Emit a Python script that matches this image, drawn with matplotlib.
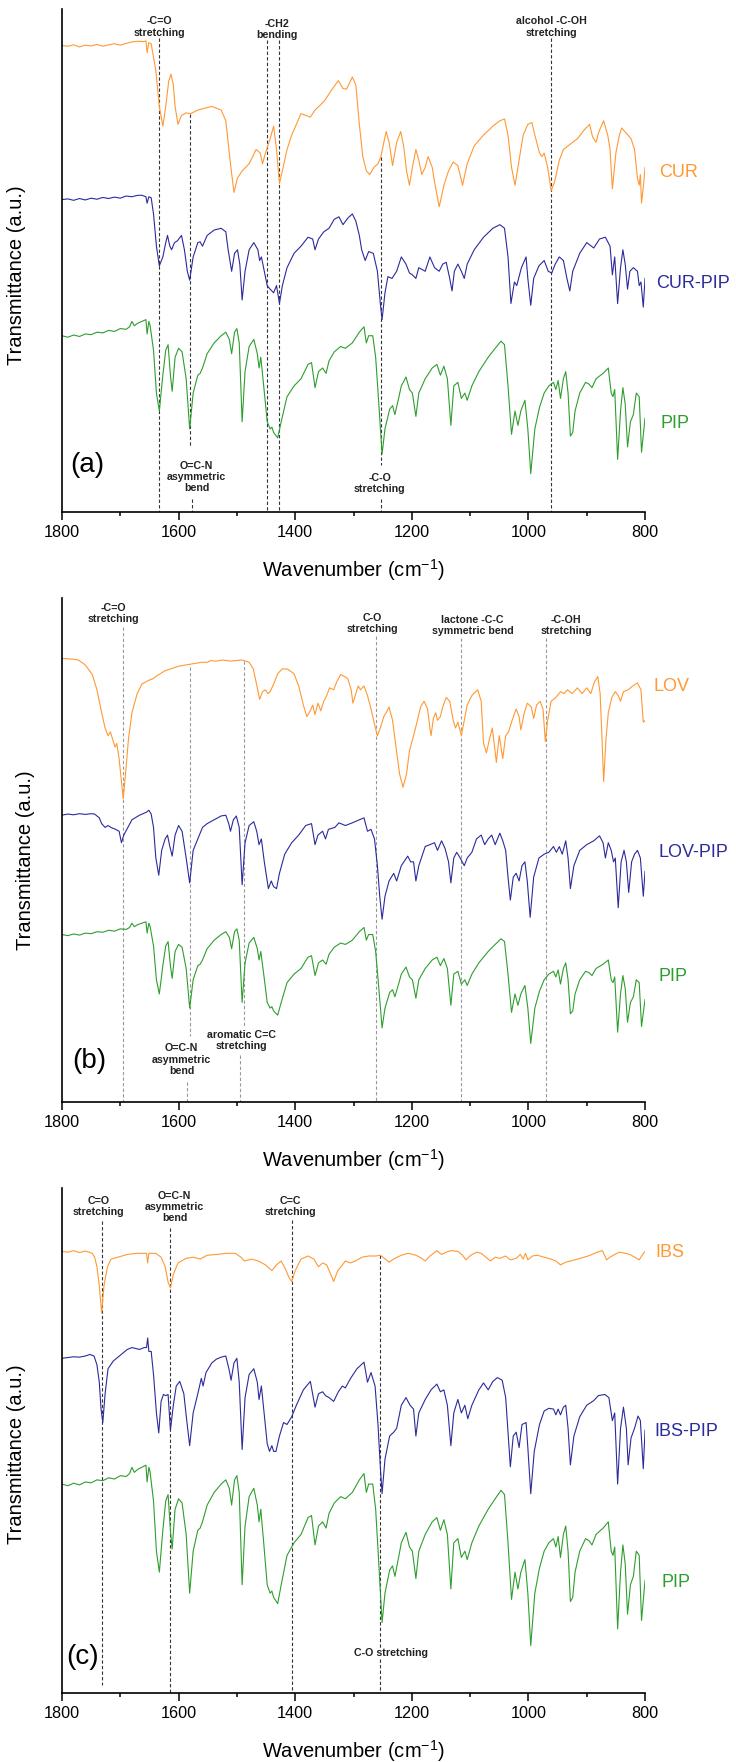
import numpy as np
import matplotlib
matplotlib.use('Agg')
import matplotlib.pyplot as plt

plt.rcParams['font.family'] = ['Liberation Sans', 'DejaVu Sans']
plt.rcParams['mathtext.default'] = 'regular'

ORANGE = '#FF9933'
BLUE = '#2B2B9B'
GREEN = '#2E9E2E'

# wavenumbers (cm-1) and transmittance (a.u., stacked as in the figure)
cur_wn = [1800, 1790, 1780, 1770, 1760, 1750, 1740, 1730, 1720, 1710, 1700, 1690, 1680, 1670, 1660, 1656, 1654, 1651,
          1647, 1639, 1633, 1627, 1622, 1617, 1613, 1609, 1606, 1601, 1595, 1587, 1579, 1567, 1555, 1543, 1527, 1519,
          1515, 1511, 1505, 1499, 1491, 1479, 1467, 1460, 1456, 1451, 1443, 1437, 1432, 1427, 1422, 1414, 1406, 1398,
          1390, 1382, 1374, 1366, 1350, 1338, 1326, 1318, 1312, 1302, 1296, 1290, 1284, 1278, 1272, 1265, 1258, 1253,
          1248, 1244, 1239, 1233, 1226, 1219, 1214, 1209, 1204, 1199, 1193, 1188, 1183, 1177, 1172, 1165, 1160, 1153,
          1145, 1137, 1129, 1121, 1113, 1105, 1093, 1077, 1061, 1049, 1041, 1035, 1029, 1023, 1017, 1009, 1001, 994,
          989, 981, 977, 973, 967, 961, 955, 947, 940, 928, 916, 904, 895, 890, 884, 879, 871, 864, 860, 856, 850, 844,
          840, 832, 824, 818, 813, 810, 808, 806, 802, 800]
cur_t = [1370, 1368, 1372, 1366, 1371, 1369, 1373, 1368, 1372, 1375, 1371, 1376, 1380, 1382, 1381, 1383, 1350, 1378,
         1375, 1300, 1200, 1145, 1200, 1270, 1290, 1260, 1200, 1150, 1175, 1182, 1180, 1190, 1195, 1200, 1190, 1160,
         1100, 1040, 960, 1000, 1020, 1040, 1080, 1070, 1040, 1070, 1110, 1145, 1080, 985, 1020, 1080, 1120, 1150,
         1180, 1175, 1170, 1190, 1215, 1245, 1272, 1250, 1248, 1282, 1260, 1150, 1060, 1020, 1010, 1030, 1040, 1060,
         1100, 1130, 1100, 1035, 1100, 1130, 1090, 1020, 980, 1030, 1080, 1050, 1010, 1030, 1060, 1030, 980, 920,
         980, 1020, 1045, 1035, 980, 1040, 1090, 1120, 1145, 1160, 1165, 1120, 1030, 980, 1040, 1120, 1150, 1155,
         1120, 1070, 1060, 1070, 1030, 965, 990, 1050, 1080, 1095, 1110, 1135, 1150, 1115, 1100, 1130, 1160, 1120,
         1080, 970, 1070, 1120, 1140, 1125, 1110, 1080, 1000, 980, 1010, 930, 990, 1030]

curpip_wn = [1800, 1790, 1780, 1770, 1760, 1750, 1740, 1730, 1720, 1710, 1700, 1690, 1680, 1670, 1663, 1656, 1654,
             1651, 1647, 1643, 1638, 1633, 1627, 1622, 1619, 1615, 1612, 1607, 1602, 1595, 1590, 1585, 1581, 1575,
             1567, 1563, 1559, 1551, 1539, 1527, 1519, 1515, 1509, 1504, 1499, 1495, 1491, 1486, 1479, 1471, 1464,
             1461, 1458, 1453, 1448, 1443, 1437, 1432, 1427, 1422, 1414, 1402, 1390, 1378, 1370, 1366, 1360, 1351,
             1342, 1333, 1325, 1318, 1310, 1302, 1296, 1290, 1286, 1280, 1274, 1266, 1259, 1254, 1251, 1246, 1241,
             1234, 1226, 1218, 1210, 1204, 1199, 1193, 1188, 1177, 1169, 1161, 1153, 1147, 1141, 1135, 1131, 1127,
             1121, 1115, 1110, 1105, 1093, 1077, 1061, 1049, 1041, 1035, 1030, 1024, 1020, 1012, 1004, 1001, 996,
             991, 982, 973, 966, 960, 954, 947, 940, 934, 929, 924, 912, 900, 888, 878, 868, 860, 856, 852, 847, 842,
             838, 834, 830, 826, 820, 813, 810, 807, 803, 800]
curpip_t = [940, 942, 938, 943, 939, 944, 941, 946, 943, 947, 944, 950, 948, 952, 952, 948, 930, 948, 945, 900, 810,
            755, 780, 820, 840, 810, 800, 820, 825, 840, 800, 740, 715, 780, 820, 822, 810, 840, 855, 860, 850, 800,
            740, 790, 800, 760, 660, 740, 800, 820, 800, 770, 780, 740, 700, 690, 680, 700, 650, 700, 750, 790, 810,
            835, 830, 800, 830, 850, 860, 885, 892, 870, 888, 900, 880, 840, 800, 770, 795, 790, 740, 650, 605, 680,
            725, 720, 740, 780, 760, 735, 730, 720, 750, 740, 780, 750, 740, 760, 765, 720, 685, 740, 760, 740, 720,
            760, 800, 835, 860, 870, 860, 780, 650, 710, 700, 750, 780, 720, 645, 720, 755, 770, 740, 735, 760, 780,
            770, 720, 685, 740, 790, 820, 805, 830, 835, 810, 730, 780, 650, 750, 800, 760, 690, 740, 750, 740, 700,
            710, 640, 720]

pip_wn = [1800, 1790, 1780, 1770, 1760, 1750, 1740, 1730, 1720, 1710, 1700, 1690, 1684, 1680, 1676, 1670, 1663, 1656,
          1654, 1651, 1649, 1643, 1638, 1633, 1627, 1622, 1618, 1614, 1611, 1606, 1600, 1594, 1587, 1581, 1575, 1567,
          1563, 1559, 1551, 1539, 1527, 1519, 1513, 1509, 1504, 1500, 1496, 1491, 1486, 1479, 1471, 1465, 1462, 1459,
          1454, 1448, 1443, 1440, 1437, 1430, 1424, 1414, 1402, 1390, 1378, 1372, 1366, 1360, 1353, 1347, 1342, 1333,
          1322, 1314, 1302, 1290, 1282, 1278, 1274, 1267, 1262, 1257, 1251, 1246, 1238, 1233, 1229, 1222, 1218, 1210,
          1204, 1199, 1193, 1188, 1177, 1165, 1157, 1151, 1145, 1139, 1133, 1128, 1121, 1115, 1109, 1105, 1097, 1085,
          1069, 1057, 1047, 1041, 1035, 1029, 1023, 1018, 1013, 1006, 1001, 996, 989, 981, 973, 965, 957, 953, 949,
          945, 940, 936, 932, 928, 924, 920, 912, 902, 896, 891, 884, 872, 863, 858, 855, 852, 847, 842, 838, 834, 830,
          825, 820, 815, 810, 806, 800]
pip_t = [560, 556, 562, 558, 565, 563, 570, 568, 575, 572, 580, 578, 585, 600, 588, 595, 600, 605, 565, 600, 590, 520,
         400, 350, 450, 520, 535, 450, 405, 500, 525, 515, 440, 300, 400, 450, 455, 470, 510, 540, 560, 570, 550, 510,
         570, 580, 540, 320, 460, 530, 550, 510, 470, 500, 420, 320, 300, 305, 290, 275, 320, 390, 420, 440, 480, 485,
         415, 460, 470, 455, 490, 515, 530, 525, 540, 570, 585, 540, 560, 560, 500, 380, 230, 300, 355, 365, 340, 390,
         420, 445, 410, 400, 335, 400, 440, 470, 480, 450, 475, 440, 310, 420, 430, 385, 400, 380, 420, 460, 500, 525,
         545, 535, 420, 285, 350, 310, 350, 380, 300, 175, 300, 360, 400, 420, 430, 410, 435, 385, 440, 460, 400, 280,
         290, 350, 400, 430, 425, 415, 440, 455, 470, 400, 390, 410, 215, 350, 415, 370, 250, 320, 340, 400, 390, 235,
         330]

lov_wn = [1800, 1790, 1780, 1772, 1760, 1748, 1740, 1732, 1726, 1721, 1717, 1713, 1709, 1706, 1702, 1698, 1695, 1691,
          1686, 1680, 1671, 1663, 1651, 1645, 1639, 1623, 1599, 1575, 1560, 1551, 1545, 1535, 1525, 1511, 1491, 1479,
          1472, 1467, 1461, 1456, 1451, 1447, 1443, 1437, 1430, 1422, 1413, 1402, 1394, 1386, 1380, 1374, 1370, 1366,
          1361, 1356, 1351, 1346, 1341, 1334, 1329, 1322, 1310, 1304, 1301, 1296, 1292, 1288, 1282, 1276, 1270, 1264,
          1259, 1254, 1248, 1244, 1239, 1233, 1228, 1221, 1215, 1209, 1204, 1197, 1192, 1185, 1179, 1173, 1169, 1167,
          1163, 1159, 1156, 1151, 1147, 1141, 1135, 1129, 1125, 1121, 1115, 1110, 1105, 1097, 1087, 1081, 1077, 1072,
          1067, 1062, 1058, 1055, 1050, 1047, 1044, 1039, 1034, 1028, 1021, 1016, 1013, 1007, 1002, 995, 991, 986, 980,
          975, 971, 967, 961, 953, 945, 939, 933, 925, 916, 908, 900, 893, 887, 881, 877, 874, 871, 867, 863, 857, 851,
          846, 842, 837, 829, 821, 813, 807, 803, 800]
lov_t = [1242, 1241, 1240, 1238, 1225, 1200, 1160, 1100, 1060, 1040, 1050, 1030, 1010, 1020, 980, 920, 875, 940, 1030,
         1100, 1150, 1175, 1185, 1188, 1195, 1210, 1222, 1228, 1232, 1232, 1236, 1235, 1238, 1235, 1238, 1232, 1215,
         1180, 1135, 1155, 1160, 1150, 1155, 1175, 1202, 1215, 1214, 1202, 1170, 1120, 1090, 1105, 1120, 1095, 1125,
         1105, 1130, 1145, 1165, 1160, 1180, 1200, 1190, 1160, 1125, 1150, 1170, 1160, 1170, 1145, 1110, 1070, 1040,
         1060, 1090, 1100, 1115, 1080, 1020, 940, 905, 940, 1000, 1040, 1070, 1115, 1130, 1110, 1060, 1040, 1085, 1100,
         1080, 1090, 1115, 1140, 1130, 1080, 1060, 1075, 1040, 1080, 1120, 1145, 1160, 1130, 1020, 995, 1030, 1060,
         1010, 970, 1040, 1010, 980, 1040, 1050, 1080, 1110, 1090, 1055, 1100, 1125, 1115, 1085, 1120, 1130, 1110, 1025,
         1080, 1130, 1140, 1155, 1150, 1160, 1150, 1165, 1150, 1165, 1150, 1180, 1195, 1150, 1040, 920, 1030, 1100,
         1140, 1155, 1145, 1130, 1155, 1160, 1170, 1178, 1160, 1075, 1080]

lovpip_wn = [1800, 1790, 1780, 1770, 1760, 1750, 1744, 1736, 1732, 1726, 1721, 1716, 1708, 1702, 1698, 1694, 1687, 1680,
             1667, 1655, 1651, 1647, 1643, 1639, 1634, 1629, 1623, 1619, 1615, 1611, 1606, 1600, 1594, 1587, 1581,
             1575, 1567, 1559, 1551, 1539, 1527, 1519, 1514, 1511, 1506, 1501, 1496, 1491, 1486, 1479, 1471, 1466,
             1462, 1458, 1453, 1446, 1441, 1437, 1432, 1427, 1418, 1406, 1394, 1382, 1372, 1366, 1361, 1353, 1348,
             1343, 1332, 1325, 1314, 1302, 1290, 1282, 1276, 1270, 1264, 1259, 1255, 1251, 1246, 1239, 1231, 1226,
             1218, 1207, 1202, 1197, 1193, 1188, 1177, 1169, 1161, 1156, 1149, 1143, 1137, 1133, 1128, 1123, 1117,
             1110, 1105, 1097, 1089, 1081, 1075, 1069, 1063, 1057, 1049, 1044, 1039, 1035, 1031, 1026, 1021, 1016,
             1011, 1006, 1002, 997, 991, 982, 973, 965, 957, 952, 947, 942, 936, 932, 928, 922, 912, 900, 888, 878,
             872, 868, 863, 858, 854, 851, 846, 841, 836, 832, 828, 823, 818, 813, 808, 803, 800]
lovpip_t = [832, 835, 833, 836, 834, 836, 835, 825, 810, 800, 805, 800, 795, 790, 760, 780, 800, 820, 832, 840, 845, 835,
            800, 720, 675, 740, 770, 780, 750, 725, 780, 805, 790, 720, 655, 740, 770, 800, 810, 820, 830, 832, 810,
            790, 820, 830, 800, 650, 760, 805, 815, 790, 755, 770, 710, 640, 660, 645, 640, 680, 730, 760, 780, 805,
            810, 755, 780, 790, 770, 795, 800, 812, 805, 812, 820, 825, 790, 795, 770, 700, 620, 560, 620, 660, 680,
            660, 700, 725, 710, 710, 660, 700, 750, 755, 760, 740, 765, 745, 710, 655, 720, 735, 720, 700, 720, 735,
            770, 780, 755, 770, 780, 755, 785, 765, 740, 670, 610, 670, 680, 660, 700, 710, 660, 565, 670, 720, 730,
            735, 750, 735, 750, 730, 765, 720, 640, 700, 740, 755, 765, 778, 760, 720, 760, 740, 710, 720, 590, 710,
            740, 710, 630, 710, 730, 740, 720, 620, 685]

ibs_wn = [1800, 1790, 1780, 1770, 1760, 1748, 1744, 1740, 1736, 1732, 1728, 1722, 1716, 1704, 1688, 1671, 1655, 1653,
          1651, 1639, 1630, 1623, 1618, 1614, 1609, 1601, 1587, 1575, 1563, 1551, 1535, 1519, 1503, 1493, 1487, 1475,
          1463, 1451, 1440, 1432, 1424, 1417, 1410, 1406, 1400, 1390, 1378, 1368, 1360, 1353, 1346, 1339, 1334, 1327,
          1319, 1314, 1305, 1297, 1285, 1274, 1262, 1254, 1247, 1239, 1229, 1218, 1206, 1193, 1183, 1177, 1169, 1157,
          1149, 1141, 1133, 1121, 1113, 1107, 1099, 1089, 1081, 1073, 1065, 1057, 1049, 1039, 1031, 1021, 1014, 1009,
          1005, 1001, 993, 985, 973, 961, 953, 945, 936, 928, 916, 904, 894, 882, 873, 866, 860, 852, 844, 834, 826,
          818, 810, 805, 800]
ibs_t = [1260, 1258, 1262, 1257, 1261, 1255, 1245, 1220, 1170, 1100, 1170, 1220, 1240, 1245, 1252, 1255, 1255, 1230,
         1255, 1255, 1245, 1220, 1180, 1165, 1200, 1230, 1242, 1245, 1240, 1250, 1252, 1255, 1255, 1245, 1235, 1240,
         1235, 1225, 1210, 1225, 1235, 1215, 1190, 1182, 1210, 1240, 1248, 1240, 1220, 1230, 1225, 1200, 1182, 1210,
         1225, 1235, 1230, 1235, 1245, 1248, 1248, 1250, 1242, 1232, 1242, 1250, 1255, 1250, 1242, 1235, 1248, 1262,
         1252, 1258, 1262, 1260, 1250, 1238, 1250, 1258, 1255, 1245, 1235, 1245, 1242, 1248, 1238, 1242, 1252, 1240,
         1255, 1238, 1248, 1250, 1245, 1240, 1235, 1225, 1232, 1235, 1240, 1245, 1250, 1258, 1262, 1238, 1245, 1252,
         1258, 1255, 1252, 1245, 1238, 1250, 1260]

ibspip_wn = [1800, 1790, 1780, 1770, 1760, 1752, 1745, 1740, 1736, 1733, 1730, 1726, 1721, 1712, 1700, 1688, 1680, 1667,
             1659, 1655, 1653, 1651, 1647, 1643, 1638, 1634, 1630, 1626, 1622, 1618, 1614, 1609, 1604, 1598, 1591,
             1586, 1581, 1575, 1567, 1561, 1558, 1553, 1543, 1535, 1527, 1519, 1513, 1510, 1505, 1500, 1496, 1491,
             1486, 1479, 1471, 1465, 1462, 1458, 1454, 1448, 1444, 1440, 1437, 1433, 1427, 1420, 1414, 1406, 1398,
             1386, 1374, 1366, 1360, 1353, 1348, 1342, 1334, 1326, 1319, 1314, 1305, 1294, 1282, 1276, 1270, 1263,
             1258, 1254, 1251, 1246, 1238, 1231, 1226, 1218, 1210, 1203, 1197, 1193, 1188, 1177, 1167, 1157, 1151,
             1145, 1139, 1133, 1128, 1121, 1115, 1109, 1104, 1097, 1085, 1077, 1069, 1061, 1053, 1045, 1039, 1035,
             1031, 1026, 1021, 1016, 1011, 1004, 1001, 996, 990, 981, 973, 965, 957, 953, 949, 945, 940, 936, 932, 928,
             922, 912, 900, 888, 880, 869, 862, 856, 852, 847, 842, 837, 832, 829, 824, 818, 812, 808, 803, 800]
ibspip_t = [982, 984, 986, 985, 988, 992, 988, 965, 920, 850, 815, 890, 955, 975, 990, 1005, 1010, 1005, 1010, 1010,
            1035, 1000, 1000, 940, 840, 788, 870, 888, 885, 888, 795, 860, 910, 922, 890, 820, 755, 840, 890, 930, 910,
            945, 970, 980, 985, 988, 950, 925, 970, 982, 920, 745, 880, 940, 955, 920, 875, 910, 850, 760, 740, 755,
            740, 740, 780, 815, 810, 830, 860, 900, 922, 855, 890, 895, 885, 880, 870, 895, 910, 905, 930, 955, 972,
            920, 945, 910, 810, 700, 630, 720, 780, 790, 800, 860, 880, 860, 850, 780, 840, 875, 900, 915, 895, 900,
            860, 755, 840, 875, 840, 860, 825, 860, 900, 918, 900, 922, 932, 925, 880, 790, 700, 780, 790, 750, 810,
            815, 750, 630, 740, 810, 845, 852, 850, 835, 850, 835, 855, 860, 800, 705, 780, 830, 860, 872, 885, 888,
            880, 820, 840, 655, 800, 855, 800, 705, 775, 800, 832, 820, 695, 795]

# PIP reference is the same spectrum in all panels, only rescaled/shifted
pip_place = {'a': (1.0, 0.0), 'b': (0.740, 105.5), 'c': (1.091, 44.1)}

panels = [
    dict(tag='a', rect=[0.0842, 0.7094, 0.7922, 0.2855], ylim=(68, 1472),
         series=[(cur_wn, cur_t, ORANGE, 'CUR', 776, 1015),
                 (curpip_wn, curpip_t, BLUE, 'CUR-PIP', 781, 705)],
         pip_label=(774, 315), letter=(1786, 200), ylab=(-0.062, 0.47), dash='#333333'),
    dict(tag='b', rect=[0.0842, 0.3746, 0.7922, 0.2860], ylim=(82, 1400),
         series=[(lov_wn, lov_t, ORANGE, 'LOV', 786, 1168),
                 (lovpip_wn, lovpip_t, BLUE, 'LOV-PIP', 777, 735)],
         pip_label=(777, 410), letter=(1783, 190), ylab=(-0.046, 0.48), dash='#999999'),
    dict(tag='c', rect=[0.0842, 0.0392, 0.7922, 0.2866], ylim=(112, 1425),
         series=[(ibs_wn, ibs_t, ORANGE, 'IBS', 782, 1257),
                 (ibspip_wn, ibspip_t, BLUE, 'IBS-PIP', 784, 793)],
         pip_label=(772, 400), letter=(1792, 205), ylab=(-0.062, 0.473), dash='#333333'),
]

# annotations: (text, x, y) and dashed marker segments (x, y0, y1)
notes = {
    'a': [('-C=O\nstretching', 1633, 1422), ('-CH2\nbending', 1431, 1414),
          ('alcohol -C-OH\nstretching', 960, 1422), ('O=C-N\nasymmetric\nbend', 1569, 165),
          ('-C-O\nstretching', 1255, 148)],
    'b': [('-C=O\nstretching', 1711, 1360), ('C-O\nstretching', 1267, 1334),
          ('lactone -C-C\nsymmetric bend', 1096, 1329), ('-C-OH\nstretching', 935, 1328),
          ('O=C-N\nasymmetric\nbend', 1595, 193), ('aromatic C=C\nstretching', 1492, 242)],
    'c': [('C=O\nstretching', 1737, 1376), ('O=C-N\nasymmetric\nbend', 1607, 1375),
          ('C=C\nstretching', 1408, 1377), ('C-O stretching', 1236, 215)],
}
marks = {
    'a': [(1634, 1390, 68), (1448, 1385, 68), (1428, 1385, 68), (961, 1390, 68),
          (1581, 1180, 250), (1577, 105, 68), (1252, 1060, 200), (1252, 105, 68)],
    'b': [(1696, 1325, 82), (1261, 1300, 82), (1115, 1295, 82), (970, 1295, 82),
          (1581, 1220, 255), (1586, 135, 82), (1488, 1235, 280), (1494, 205, 82)],
    'c': [(1732, 1340, 132), (1615, 1320, 112), (1405, 1342, 112),
          (1254, 1250, 230), (1254, 200, 112)],
}

fig = plt.figure(figsize=(7.36, 17.62), dpi=100)

for p in panels:
    ax = fig.add_axes(p['rect'])
    tag = p['tag']
    for x, y0, y1 in marks[tag]:
        ax.plot([x, x], [y0, y1], color=p['dash'], lw=0.8, ls=(0, (3, 2)), zorder=1)
    for wn, t, col, name, lx, ly in p['series']:
        ax.plot(wn, t, color=col, lw=0.8, zorder=2)
        ax.text(lx, ly, name, color=col, fontsize=13, ha='left', va='center')
    k, off = pip_place[tag]
    ax.plot(pip_wn, np.array(pip_t) * k + off, color=GREEN, lw=0.8, zorder=2)
    ax.text(p['pip_label'][0], p['pip_label'][1], 'PIP', color=GREEN, fontsize=13,
            ha='left', va='center')
    for txt, x, y in notes[tag]:
        ax.text(x, y, txt, fontsize=7.7, fontweight='bold', ha='center', va='center',
                linespacing=1.15, color='#222222')
    ax.text(p['letter'][0], p['letter'][1], '(%s)' % tag, fontsize=20, ha='left', va='center')

    ax.set_xlim(1800, 800)
    ax.set_ylim(*p['ylim'])
    ax.set_xticks([1800, 1600, 1400, 1200, 1000, 800])
    ax.set_xticks([1700, 1500, 1300, 1100, 900], minor=True)
    ax.tick_params(axis='x', which='major', length=5.5, width=1.1, labelsize=11.7, pad=4)
    ax.tick_params(axis='x', which='minor', length=3, width=1.1)
    ax.set_yticks([])
    for s in ['top', 'right']:
        ax.spines[s].set_visible(False)
    for s in ['left', 'bottom']:
        ax.spines[s].set_linewidth(1.2)
    ax.set_xlabel('Wavenumber (cm$^{-1}$)', fontsize=14.5, labelpad=12)
    ax.set_ylabel('Transmittance (a.u.)', fontsize=14.5)
    ax.yaxis.set_label_coords(p['ylab'][0], p['ylab'][1])

fig.savefig('out.png', dpi=100)
